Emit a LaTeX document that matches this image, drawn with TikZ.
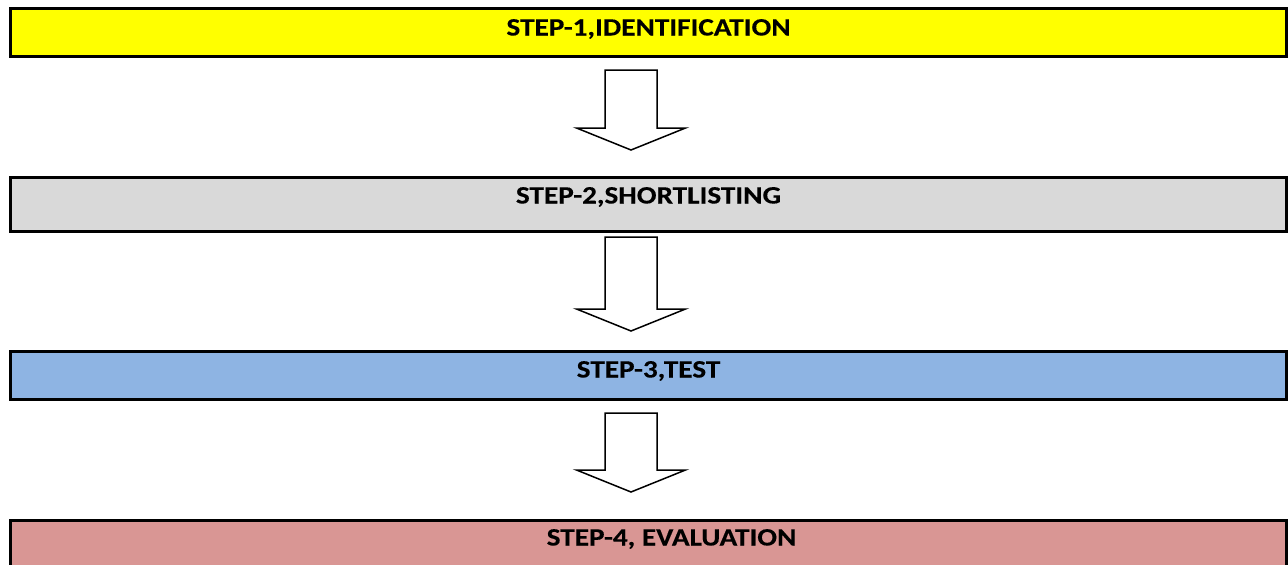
\documentclass[tikz,border=0pt]{standalone}
\usepackage{fontspec}
\setmainfont{Carlito}[BoldFeatures={FakeStretch=1.17,FakeBold=0.25}]
\usepackage{tikz}
\usetikzlibrary{calc}
\usepackage{xcolor}
\definecolor{stepyellow}{HTML}{FFFF00}
\definecolor{stepgrey}{HTML}{D9D9D9}
\definecolor{stepblue}{HTML}{8EB4E3}
\definecolor{steppink}{HTML}{D99694}
\tikzstyle{stepbox}=[draw, line width=3pt, minimum width=1276pt, inner sep=0pt, anchor=north, font=\fontsize{25}{30}\selectfont\bfseries]
\tikzstyle{blockarrow}=[draw, fill=white, line width=1.5pt, line join=miter]
% hollow down arrow from #1 (top of shaft) to #2 (tip)
\newcommand{\downblock}[2]{%
\draw[blockarrow] ($(#1)+(-26,0)$) -- ($(#2)+(-26,-22)$) -- ($(#2)+(-54.5,-22)$) -- (#2)
  -- ($(#2)+(54.5,-22)$) -- ($(#2)+(26,-22)$) -- ($(#1)+(26,0)$) -- cycle;}

\begin{document}
\begin{tikzpicture}[x=1pt,y=-1pt]
\useasboundingbox (0,0) rectangle (1288,565);
\node[stepbox, fill=stepyellow, text height=27.5pt, text depth=20.5pt] (s1) at (648.5,6.5) {STEP-1,IDENTIFICATION};
\node[stepbox, fill=stepgrey, text height=26.5pt, text depth=27.5pt] (s2) at (648.5,175.5) {STEP-2,SHORTLISTING};
\node[stepbox, fill=stepblue, text height=26.5pt, text depth=21.5pt] (s3) at (648.5,349.5) {STEP-3,TEST};
\node[stepbox, fill=steppink, text height=25.5pt, text depth=26pt] (s4) at (648.5,518.5) {\hspace*{46pt}STEP-4, EVALUATION};
\coordinate (a1) at ($(s1.south)+(-17.5,12.5)$);
\coordinate (t1) at ($(s2.north)+(-17.5,-25.5)$);
\coordinate (a2) at ($(s2.south)+(-17.5,4.5)$);
\coordinate (t2) at ($(s3.north)+(-17.5,-18.5)$);
\coordinate (a3) at ($(s3.south)+(-17.5,12.5)$);
\coordinate (t3) at ($(s4.north)+(-17.5,-26.5)$);
\downblock{a1}{t1}
\downblock{a2}{t2}
\downblock{a3}{t3}
\end{tikzpicture}
\end{document}
